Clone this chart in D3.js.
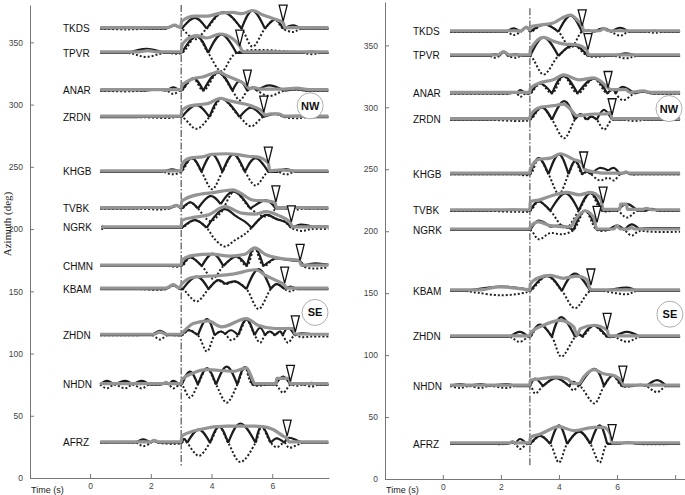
<!DOCTYPE html>
<html>
<head>
<meta charset="utf-8">
<script src="https://cdn.jsdelivr.net/npm/d3@7"></script>
<style>
  body { margin: 0; background: #fff; }
  svg { display: block; font-family: "Liberation Sans", Arial, sans-serif; }
</style>
</head>
<body>
<script>
// stations, shared by both panels (azimuth in deg)
const stations = ["TKDS","TPVR","ANAR","ZRDN","KHGB","TVBK","NGRK","CHMN","KBAM","ZHDN","NHDN","AFRZ"];
const azimuth  = [361, 341.5, 311.2, 290, 246, 216.5, 201, 170.3, 151.8, 114.7, 75, 28.3];

const yTicks  = [0, 50, 100, 150, 200, 250, 300, 350];
const xTicksL = [0, 2, 4, 6];
const xTicksR = [0, 2, 4, 6, 8];
const onsetTime = 3;

// trace samples: [time (s), amplitude (deg, relative to station azimuth)]
// sig = raw trace (dotted), black line = |sig|; env = grey envelope; mark = [time, amp] of the triangle
const sigL = [
  [[0.33,0],[1.2,-0.6],[2.0,0],[2.5,0],[2.78,2.4],[3.02,0],[3.45,-8.6],[3.84,0],[4.39,13.1],[4.99,0],[5.35,-14.4],[5.76,0],[6.09,7.2],[6.36,0],[6.69,-2.7],[6.95,0],[7.85,0]],
  [[0.33,0],[1.26,0],[1.85,-3.2],[2.45,0],[3.02,0],[3.5,13.4],[3.89,0],[4.33,-14.7],[4.82,0],[7.0,0],[7.3,-1],[7.6,0],[7.85,0]],
  [[0.33,0],[1.2,-0.6],[1.8,0],[2.2,0.8],[2.52,0],[2.74,-2.7],[2.96,0],[3.02,0],[3.4,9.9],[3.73,0],[4.22,14.5],[4.69,0],[4.93,-7.8],[5.18,0],[5.35,2.7],[5.5,0],[5.9,-4.3],[6.4,0],[6.8,1],[7.1,0],[7.85,0]],
  [[0.33,0],[1.5,0],[2.6,-0.8],[3.02,0],[3.5,-9.5],[3.93,0],[4.33,14.7],[4.93,0],[5.3,-7.5],[5.7,0],[6.1,2.5],[6.4,0],[6.8,-1],[7.2,0],[7.85,0]],
  [[0.33,0],[1.5,0],[2.4,0],[2.7,-2],[3.0,0],[3.35,11],[3.67,0],[4.02,-14],[4.36,0],[4.72,14],[5.1,0],[5.45,-11],[5.87,0],[6.2,0],[6.45,-2.2],[6.75,0],[7.85,0]],
  [[0.33,0],[1.5,0],[2.3,-0.8],[2.6,0],[2.85,2.2],[3.02,0],[3.3,5],[3.55,0],[3.95,-10],[4.3,-3.5],[4.75,13.5],[5.28,0],[5.75,-6.5],[6.0,-3.5],[6.12,0],[6.5,0],[6.8,-0.8],[7.1,0],[7.85,0]],
  [[0.38,-1.5],[0.45,0],[1.5,0],[2.8,0],[3.02,0],[3.45,6.2],[3.84,0],[4.1,-9],[4.44,-15],[4.77,-10],[5.1,-5],[5.32,0],[5.76,10.2],[6.1,7.5],[6.4,5],[6.63,0],[6.95,-2.5],[7.3,-1],[7.85,-1]],
  [[0.33,0],[1.5,0],[2.5,0],[3.02,0],[3.3,7],[3.68,0],[4.04,-10],[4.39,0],[4.81,7.5],[5.16,0],[5.42,14.5],[5.71,0],[6.1,6],[6.5,5],[6.92,3.5],[7.0,0],[7.35,-2],[7.7,-1.5],[7.85,-1.2]],
  [[0.33,0],[1.5,0],[2.5,0],[2.74,3],[2.95,0],[3.05,0],[3.51,-10],[3.9,0],[4.2,7],[4.45,4],[4.8,6],[5.15,0],[5.55,-16],[5.95,0],[6.15,4],[6.41,0],[6.6,-2],[6.8,0],[7.85,0]],
  [[0.33,0],[1.5,0],[2.05,0],[2.3,-3.5],[2.55,0],[3.02,0],[3.25,4],[3.55,0],[3.85,-13],[4.1,0],[4.3,3],[4.45,1],[4.65,-4],[4.88,0],[5.15,12.6],[5.42,0],[5.6,-6],[5.76,0],[5.92,3],[6.09,0],[6.25,3],[6.35,0],[6.52,-6],[6.74,0],[6.95,-1.5],[7.3,-1],[7.85,-1]],
  [[0.33,0],[0.55,-3],[0.8,0],[1.15,-3],[1.4,0],[1.7,-3],[1.95,0],[2.3,0],[2.5,1],[2.6,0],[2.74,-3],[2.95,0],[3.02,0],[3.29,-10.5],[3.55,0],[3.85,13],[4.15,0],[4.5,-14.5],[4.85,0],[5.1,14],[5.35,0],[6.1,0],[6.36,-6.5],[6.6,0],[6.8,-1],[7.0,0],[7.3,-1.5],[7.5,0],[7.85,0]],
  [[0.33,0],[1.5,0],[1.75,-2.7],[2.0,0],[2.1,1.5],[2.25,0],[3.02,0],[3.1,3],[3.2,0],[3.58,-10.5],[3.95,0],[4.25,13],[4.55,0],[4.95,-15.5],[5.45,0],[5.65,13],[5.95,0],[6.15,-3.5],[6.4,0],[6.55,-4],[6.8,-2],[7.0,0],[7.85,0]]
];

const envL = [
  [[0.33,0.8],[2.55,0.8],[2.78,2.8],[2.98,0.8],[3.02,6],[3.45,10],[3.84,10],[4.3,12.5],[4.7,13],[5.0,12],[5.35,14.6],[5.7,11],[6.1,7.5],[6.36,5],[6.42,0.8],[7.85,0.8]],
  [[0.33,0.8],[1.6,0.8],[1.9,1.8],[2.2,0.8],[3.0,0.8],[3.02,5.4],[3.18,10.7],[3.51,13.9],[3.84,12],[4.28,15.2],[4.71,11.2],[4.93,5.4],[5.04,0.8],[7.85,0.8]],
  [[0.33,0.8],[3.0,0.8],[3.02,4],[3.2,7.5],[3.45,10],[3.7,11],[4.0,13.5],[4.22,15],[4.5,12],[4.8,9],[5.1,5],[5.18,3],[5.25,1.5],[5.4,2.5],[5.6,1.2],[6.4,1.2],[6.8,2],[7.2,0.8],[7.85,0.8]],
  [[0.33,0.8],[3.0,0.8],[3.02,5],[3.3,9],[3.6,10],[3.9,11],[4.3,15],[4.6,13],[5.0,11],[5.3,9],[5.7,4],[5.76,1.5],[5.95,2.5],[6.2,2.5],[6.4,0.8],[7.85,0.8]],
  [[0.33,0.8],[3.0,0.8],[3.02,6],[3.3,11],[3.7,12],[4.0,14],[4.5,14.5],[4.8,14],[5.2,12.5],[5.5,12],[5.87,7],[5.92,0.8],[6.3,1.5],[6.7,0.8],[7.85,0.8]],
  [[0.33,0.8],[2.6,0.8],[2.85,2.6],[3.0,1],[3.02,6],[3.62,11.5],[4.06,12.8],[4.71,15],[4.93,12.8],[5.37,6.7],[5.81,6.2],[6.09,4.8],[6.14,0.8],[7.85,0.8]],
  [[0.38,0.8],[3.0,0.8],[3.02,6],[3.45,8.6],[3.9,10.4],[4.44,17],[4.99,11.8],[5.43,11],[5.81,13],[6.2,10],[6.6,4],[6.66,0.8],[7.85,0.8]],
  [[0.33,0.8],[3.0,0.8],[3.02,5],[3.4,8.5],[4.0,9.5],[4.6,8],[5.1,9.5],[5.42,14.5],[5.8,9],[6.3,6],[6.9,4.5],[6.95,0.8],[7.85,0.8]],
  [[0.33,0.8],[2.5,0.8],[2.74,3.5],[2.95,0.8],[3.02,4],[3.4,9.5],[4.17,10.7],[4.7,12],[5.45,15.5],[5.8,10.7],[6.14,6.7],[6.41,3],[6.47,0.8],[7.85,0.8]],
  [[0.33,0.8],[2.1,0.8],[2.3,2.5],[2.5,0.8],[3.0,0.8],[3.02,1.3],[3.4,9.4],[3.89,11.6],[4.33,6.7],[5.15,13.4],[5.53,8],[6.09,5.4],[6.69,5.4],[6.76,1],[7.85,0.8]],
  [[0.33,0.8],[2.4,0.8],[2.5,1.8],[2.6,0.8],[3.0,0.8],[3.02,4],[3.4,9.4],[3.84,12],[4.71,10.7],[5.15,13.4],[5.37,3],[5.42,0.8],[6.12,0.8],[6.15,5],[6.55,5],[6.6,0.8],[7.85,0.8]],
  [[0.33,0.8],[2.0,0.8],[2.1,2],[2.25,0.8],[3.0,0.8],[3.02,5.4],[3.62,10.7],[4.5,13.4],[5.37,13.4],[5.7,13],[6.03,10.7],[6.36,5.4],[6.49,3.5],[6.55,0.8],[7.85,0.8]]
];

const markL = [[6.36,6],[4.93,5.4],[5.18,3.7],[5.72,4],[5.87,7],[6.12,5.4],[6.63,4.8],[6.92,4.5],[6.41,4.8],[6.76,2.7],[6.6,2.7],[6.49,5.4]];

const sigR = [
  [[0.25,0],[1.5,0],[2.2,0],[2.44,-2.7],[2.68,0],[2.88,3.5],[3.01,0],[3.5,6],[3.98,0],[4.4,-13],[4.79,0],[5.0,1],[5.2,0],[5.54,2.7],[5.8,0],[6.11,-3.2],[6.4,0],[7.0,0],[7.3,-0.8],[7.6,0],[8.17,0]],
  [[0.25,0],[1.6,0],[1.8,-1.5],[1.95,0],[2.09,3],[2.25,0],[2.5,-1.5],[2.7,0],[3.01,0],[3.47,-15],[3.98,0],[4.5,8.6],[5.0,0],[5.9,0],[6.3,-2],[6.7,0],[8.17,0]],
  [[0.25,0],[1.5,0],[2.3,0],[2.45,1],[2.55,0],[2.67,-2.7],[2.85,0],[3.01,0],[3.36,8],[3.76,0],[4.16,14],[4.64,0],[5.2,12],[5.66,0],[5.85,3.5],[5.95,0],[6.2,-5.4],[6.6,0],[6.9,1.5],[7.2,0],[8.17,0]],
  [[0.25,0],[1.5,0],[2.7,-1],[3.01,0],[3.41,10],[3.76,0],[4.18,-15],[4.55,0],[4.75,4.5],[4.95,0],[5.12,2.5],[5.3,0],[5.55,-8],[5.83,0],[6.2,0],[6.6,-1],[7.0,0],[8.17,0]],
  [[0.25,0],[1.5,0],[2.5,0],[3.01,0],[3.3,13],[3.64,0],[4.0,-16],[4.33,0],[4.56,10.5],[4.8,0],[4.95,2],[5.1,0],[5.4,-5],[5.7,-3],[5.9,-5],[6.1,0],[6.3,1.5],[6.45,0],[6.8,0],[8.17,0]],
  [[0.25,0],[1.5,0],[2.5,-0.8],[3.01,0],[3.3,7.5],[3.7,0],[4.22,-14],[4.68,0],[5.08,14.3],[5.48,0],[6.0,0],[6.34,-5.5],[6.7,0],[7.0,0],[7.2,1.5],[7.4,0],[8.17,0]],
  [[0.25,0],[1.5,0],[2.5,0],[3.01,0],[3.3,-7.5],[3.7,-2.5],[4.1,-3.5],[4.5,0],[4.9,15.5],[5.31,0],[5.7,0],[6.0,3.5],[6.25,0],[6.5,-4.5],[6.75,-1],[7.2,-1.5],[8.17,-1.5]],
  null,
  [[0.25,0],[0.8,0],[1.2,-1.5],[1.98,-3.5],[2.7,-2],[3.01,0],[3.59,12],[4.1,0],[4.55,-14],[5.08,0],[5.5,0],[5.9,-1.5],[6.34,-2.7],[6.7,0],[8.17,0]],
  [[0.25,0],[1.5,0],[2.3,0],[2.65,-4],[2.95,0],[3.01,0],[3.35,10],[3.76,0],[4.08,-16],[4.56,0],[4.7,2],[4.8,0],[5.2,9],[5.66,0],[5.9,0],[6.34,-4],[6.8,0],[8.17,0]],
  [[0.25,0],[0.6,-1.5],[0.9,0],[1.3,-1.5],[1.6,0],[2.2,-1.5],[2.5,0],[3.01,0],[3.18,-6],[3.45,0],[3.9,6.5],[4.35,0],[4.5,-3.5],[4.7,0],[5.22,-14],[5.55,0],[5.85,8.5],[6.17,0],[6.5,0],[6.8,1],[7.0,0],[7.38,-4.8],[7.7,0],[8.17,0]],
  [[0.25,0],[1.5,0],[2.2,0],[2.4,1],[2.5,0],[2.66,-4],[2.9,0],[3.01,0],[3.35,6.5],[3.7,0],[4.0,-15],[4.28,0],[4.7,10],[5.08,0],[5.4,-15],[5.66,0],[6.0,0],[6.4,1],[6.7,0],[8.17,0]]
];

const envR = [
  [[0.25,0.8],[2.7,0.8],[2.88,3.8],[3.0,1.5],[3.01,4],[3.4,5.5],[3.8,7],[4.1,11],[4.4,13.5],[4.65,9],[4.8,4.8],[4.85,0.8],[5.4,0.8],[5.54,2.5],[5.7,0.8],[8.17,0.8]],
  [[0.25,0.8],[1.9,0.8],[2.09,3.5],[2.3,0.8],[3.0,0.8],[3.01,4.5],[3.47,15],[3.8,12],[4.2,9.5],[4.6,9],[4.95,5],[5.02,0.8],[8.17,0.8]],
  [[0.25,0.8],[3.0,0.8],[3.01,4],[3.36,8.6],[3.8,11],[4.16,15],[4.7,11],[5.2,12.5],[5.6,6.5],[5.69,4.5],[5.8,3],[6.3,3],[6.45,0.8],[6.9,2],[7.2,0.8],[8.17,0.8]],
  [[0.25,0.8],[3.0,0.8],[3.01,3.2],[3.36,10],[3.82,11.3],[4.16,12.6],[4.39,8.6],[4.62,3.2],[5.2,4.6],[5.6,4.6],[5.77,5.9],[5.83,0.8],[8.17,0.8]],
  [[0.25,0.8],[3.0,0.8],[3.01,4],[3.3,12],[3.7,13],[4.05,16.5],[4.5,12],[4.8,9],[4.87,4],[5.3,1.5],[5.6,0.8],[6.25,0.8],[6.3,2],[6.4,0.8],[8.17,0.8]],
  [[0.25,0.8],[3.0,0.8],[3.01,7.5],[3.3,8.6],[3.8,12.5],[4.28,14.8],[4.7,12.9],[5.08,14.8],[5.44,9.6],[5.52,1.2],[6.1,1.2],[6.12,5.4],[6.32,5.4],[6.36,1.2],[6.9,1.2],[7.0,2],[7.2,0.8],[8.17,0.8]],
  [[0.25,0.8],[3.0,0.8],[3.01,2.5],[3.3,6.5],[3.7,3.5],[4.4,2.5],[4.55,8],[4.9,15.5],[5.2,10],[5.3,0.8],[5.9,0.8],[6.0,3.5],[6.1,0.8],[6.4,0.8],[6.5,2],[6.6,0.8],[8.17,0.8]],
  null,
  [[0.25,0.8],[1.2,0.8],[1.98,3.2],[2.8,1.5],[3.0,0.8],[3.01,5.4],[3.3,10.7],[3.7,12.6],[4.15,10.2],[4.62,12],[4.95,9.4],[5.08,1.5],[5.15,0.8],[8.17,0.8]],
  [[0.25,0.8],[3.0,0.8],[3.01,2.7],[3.47,9.4],[4.05,13.4],[4.51,8],[4.62,1.3],[4.74,6.7],[5.2,9.4],[5.66,5.4],[5.72,0.8],[8.17,0.8]],
  [[0.25,0.8],[3.0,0.8],[3.01,4.6],[3.36,5.9],[3.93,7.3],[4.28,5.9],[4.51,1.9],[4.68,1.9],[4.85,7.3],[5.2,13.2],[5.54,9.9],[5.89,8.6],[6.17,3.2],[6.22,0.8],[8.17,0.8]],
  [[0.25,0.8],[2.3,0.8],[2.4,1.8],[2.5,0.8],[3.0,0.8],[3.01,5.4],[3.36,8],[4.0,14],[4.51,10.7],[5.2,13.4],[5.54,13.4],[5.77,8],[5.83,0.8],[8.17,0.8]]
];

const markR = [[4.8,4.8],[5.0,5],[5.69,4.8],[5.83,4],[4.85,5],[5.52,6.2],[5.31,6.2],null,[5.1,4.8],[5.66,6],[6.2,3.2],[5.83,2.7]];

// back-azimuth region tags
const regionNames = ["NW", "SE"];
const regionAz    = [299, 133];
const regionTL    = [7.25, 7.41];
const regionTR    = [7.79, 7.82];

var width = 685, height = 495;

var svg = d3.select("body").append("svg")
  .attr("width", width)
  .attr("height", height);

var panels = [
  { x: d3.scaleLinear().domain([-1.98, 7.87]).range([30, 329]),
    y: d3.scaleLinear().domain([0, 380]).range([478, 5]),
    sig: sigL, env: envL, mark: markL, xticks: xTicksL, labelX: 63, regionT: regionTL },
  { x: d3.scaleLinear().domain([-1.99, 8.34]).range([385, 685]),
    y: d3.scaleLinear().domain([0, 385]).range([479, 2]),
    sig: sigR, env: envR, mark: markR, xticks: xTicksR, labelX: 413, regionT: regionTR }
];

// split |signal| into arches at the valleys so the black line gets sharp cusps
function arches(pts) {
  var a = pts.map(function(d) { return [d[0], Math.abs(d[1])]; });
  var cuts = [0];
  for (var i = 1; i < a.length - 1; i++) {
    if (a[i][1] <= a[i-1][1] && a[i][1] <= a[i+1][1]) cuts.push(i);
  }
  cuts.push(a.length - 1);
  var segs = [];
  for (var k = 0; k < cuts.length - 1; k++) segs.push(a.slice(cuts[k], cuts[k+1] + 1));
  return segs;
}

panels.forEach(function(p, pi) {
  var g = svg.append("g");

  // axes
  var yAx = g.append("g")
    .attr("transform", "translate(" + p.x.range()[0] + ",0)")
    .call(d3.axisLeft(p.y).tickValues(yTicks).tickSize(-4).tickSizeOuter(0).tickPadding(7));
  var xAx = g.append("g")
    .attr("transform", "translate(0," + p.y(0) + ")")
    .call(d3.axisBottom(p.x).tickValues(p.xticks).tickSize(-4).tickSizeOuter(0).tickPadding(5)
      .tickFormat(function(d) { return d === 8 ? "" : d; }));
  [yAx, xAx].forEach(function(ax) {
    ax.select(".domain").attr("stroke", "#777");
    ax.selectAll(".tick line").attr("stroke", "#777");
    ax.selectAll(".tick text")
      .attr("fill", "#444")
      .style("font-size", "8.5px")
      .style("font-family", "'Liberation Sans', Arial, sans-serif");
  });

  g.append("text")
    .attr("x", p.x.range()[0] + 1)
    .attr("y", 493)
    .attr("fill", "#222")
    .style("font-size", "9px")
    .text("Time (s)");

  // onset line
  g.append("line")
    .attr("x1", p.x(onsetTime)).attr("x2", p.x(onsetTime))
    .attr("y1", p.y(380)).attr("y2", p.y(10))
    .attr("stroke", "#333")
    .attr("stroke-width", 1)
    .attr("stroke-dasharray", "7,2,1.5,2");

  var envLine = d3.line()
    .x(function(d) { return p.x(d[0]); })
    .curve(d3.curveMonotoneX);
  var dotLine = d3.line()
    .x(function(d) { return p.x(d[0]); })
    .curve(d3.curveCatmullRom.alpha(0.5));
  var absLine = d3.line()
    .x(function(d) { return p.x(d[0]); })
    .curve(d3.curveNatural);

  var traces = g.append("g");
  stations.forEach(function(name, i) {
    if (!p.sig[i]) return;
    var az = azimuth[i];
    var yy = function(d) { return p.y(az + d[1]); };

    traces.append("path")
      .attr("d", dotLine.y(yy)(p.sig[i]))
      .attr("fill", "none")
      .attr("stroke", "#222")
      .attr("stroke-width", 2)
      .attr("stroke-dasharray", "2,2");

    traces.append("path")
      .attr("d", arches(p.sig[i]).map(function(s) { return absLine.y(yy)(s); }).join(""))
      .attr("fill", "none")
      .attr("stroke", "#1c1c1c")
      .attr("stroke-width", 2.2)
      .attr("stroke-linejoin", "miter");

    traces.append("path")
      .attr("d", envLine.y(yy)(p.env[i]))
      .attr("fill", "none")
      .attr("stroke", "#949494")
      .attr("stroke-width", 3.2);

    var m = p.mark[i];
    var mx = p.x(m[0]), my = p.y(az + m[1]);
    traces.append("path")
      .attr("d", "M" + (mx - 4) + "," + (my - 16) + "L" + (mx + 4) + "," + (my - 16) + "L" + mx + "," + my + "Z")
      .attr("fill", "#fff")
      .attr("stroke", "#111")
      .attr("stroke-width", 1.3);

    g.append("text")
      .attr("x", p.labelX)
      .attr("y", p.y(az))
      .attr("dy", "0.36em")
      .attr("fill", "#111")
      .style("font-size", "10px")
      .text(name);
  });

  // region tags
  regionNames.forEach(function(r, k) {
    var cx = p.x(p.regionT[k]), cy = p.y(regionAz[k]);
    g.append("circle")
      .attr("cx", cx).attr("cy", cy).attr("r", 13)
      .attr("fill", "#fff")
      .attr("stroke", "#999")
      .attr("stroke-width", 0.8);
    g.append("text")
      .attr("x", cx).attr("y", cy)
      .attr("dy", "0.36em")
      .attr("text-anchor", "middle")
      .attr("font-weight", "bold")
      .style("font-size", "11px")
      .attr("fill", "#111")
      .text(r);
  });
});

// y axis title (left panel only)
svg.append("text")
  .attr("transform", "translate(11,224) rotate(-90)")
  .attr("text-anchor", "middle")
  .attr("fill", "#222")
  .style("font-family", "'Liberation Serif', 'Times New Roman', serif")
  .style("font-size", "11px")
  .text("Azimuth (deg)");
</script>
</body>
</html>
